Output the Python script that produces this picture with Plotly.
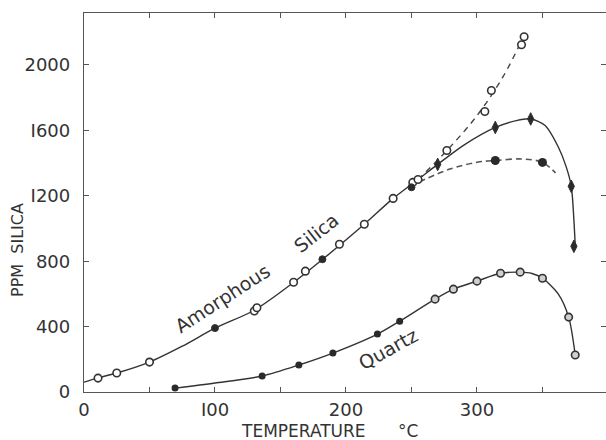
import plotly.graph_objects as go

# ---- data ----
# Amorphous silica: solid curve
amor_curve_t = [0, 10, 25, 50, 75, 100, 130, 160, 185, 214, 236, 255, 270, 290, 314, 330, 341, 352, 362, 368, 372, 374, 375]
amor_curve_p = [60, 85, 116, 183, 280, 390, 500, 670, 830, 1026, 1184, 1300, 1392, 1510, 1618, 1660, 1670, 1630, 1500, 1380, 1258, 1050, 897]

# dashed branch through open circles
open_branch_t = [255, 277, 300, 320, 336]
open_branch_p = [1300, 1477, 1690, 1930, 2180]

# dashed branch through large filled circles
fill_branch_t = [256, 280, 300, 314, 335, 350, 360]
fill_branch_p = [1285, 1365, 1405, 1416, 1425, 1404, 1340]

# Quartz curve
quartz_curve_t = [70, 100, 136, 164, 190, 224, 241, 268, 282, 300, 318, 333, 342, 350, 362, 370, 375]
quartz_curve_p = [24, 55, 98, 165, 238, 354, 433, 568, 629, 678, 726, 733, 725, 696, 600, 458, 226]

# markers
amor_open_t = [10.7, 25, 50, 130, 132, 160, 169, 195, 214, 236, 251, 255, 277, 306, 311, 334, 336]
amor_open_p = [85, 116, 183, 495, 515, 671, 739, 904, 1026, 1184, 1282, 1300, 1477, 1716, 1844, 2124, 2173]
amor_dot_t = [100, 182, 250]
amor_dot_p = [391, 812, 1252]
diamond_t = [270, 314, 341, 372, 374]
diamond_p = [1392, 1618, 1670, 1258, 891]
bigdot_t = [314, 350]
bigdot_p = [1416, 1404]
quartz_fill_t = [69.5, 136, 164, 190, 224, 241]
quartz_fill_p = [24, 98, 165, 238, 354, 433]
quartz_open_t = [268, 282, 300, 318, 333, 350, 370, 375]
quartz_open_p = [568, 629, 678, 726, 733, 696, 458, 226]

x_tickvals = [0, 50, 100, 150, 200, 250, 300, 350]
x_ticktext = ["0", "", "I00", "", "200", "", "300", ""]
y_tickvals = [0, 400, 800, 1200, 1600, 2000]
y_ticktext = ["0", "400", "800", "I200", "I600", "2000"]

INK = "#333333"
FONT = "DejaVu Sans"

fig = go.Figure()
line_style = dict(color=INK, width=1.4, shape="spline", smoothing=0.8)
fig.add_trace(go.Scatter(x=amor_curve_t, y=amor_curve_p, mode="lines", line=line_style))
fig.add_trace(go.Scatter(x=quartz_curve_t, y=quartz_curve_p, mode="lines", line=line_style))
fig.add_trace(go.Scatter(x=open_branch_t, y=open_branch_p, mode="lines",
                         line=dict(color="#444444", width=1.4, dash="6px,5px", shape="spline")))
fig.add_trace(go.Scatter(x=fill_branch_t, y=fill_branch_p, mode="lines",
                         line=dict(color="#555555", width=1.6, dash="6px,4px", shape="spline")))

fig.add_trace(go.Scatter(x=amor_open_t, y=amor_open_p, mode="markers",
                         marker=dict(symbol="circle", size=7.5, color="white", line=dict(color=INK, width=1.6))))
fig.add_trace(go.Scatter(x=amor_dot_t, y=amor_dot_p, mode="markers",
                         marker=dict(symbol="circle", size=7, color="#2a2a2a", line=dict(color=INK, width=1))))
fig.add_trace(go.Scatter(x=diamond_t, y=diamond_p, mode="markers",
                         marker=dict(symbol="diamond-tall", size=9, color="#2a2a2a", line=dict(color=INK, width=1))))
fig.add_trace(go.Scatter(x=bigdot_t, y=bigdot_p, mode="markers",
                         marker=dict(symbol="circle", size=9, color="#2a2a2a", line=dict(width=0))))
fig.add_trace(go.Scatter(x=quartz_fill_t, y=quartz_fill_p, mode="markers",
                         marker=dict(symbol="circle", size=7, color="#2a2a2a", line=dict(width=0))))
fig.add_trace(go.Scatter(x=quartz_open_t, y=quartz_open_p, mode="markers",
                         marker=dict(symbol="circle", size=7.5, color="#cfcfcf", line=dict(color=INK, width=1.6))))

axis_common = dict(showgrid=False, zeroline=False, showline=True, linecolor="#555555", linewidth=1.3,
                   ticks="inside", ticklen=5, tickcolor="#555555", mirror="ticks",
                   tickfont=dict(family=FONT, size=18, color=INK))
fig.update_xaxes(range=[0, 398.5], tickvals=x_tickvals, ticktext=x_ticktext, ticklabelstandoff=1, **axis_common)
fig.update_yaxes(range=[0, 2318], tickvals=y_tickvals, ticktext=y_ticktext, ticklabelstandoff=9, **axis_common)

ann_font = dict(family=FONT, size=19, color=INK)
fig.update_layout(
    width=606, height=440,
    margin=dict(l=84, r=0, t=13, b=48),
    paper_bgcolor="white", plot_bgcolor="white",
    showlegend=False,
    annotations=[
        dict(text="Amorphous", x=106, y=575, xref="x", yref="y", textangle=-33, showarrow=False, font=ann_font),
        dict(text="Silica", x=177, y=975, xref="x", yref="y", textangle=-38, showarrow=False, font=ann_font),
        dict(text="Quartz", x=232, y=265, xref="x", yref="y", textangle=-29, showarrow=False, font=ann_font),
        dict(text="PPM  SILICA", x=17, y=250, xref="paper", yref="paper", showarrow=False, textangle=-90,
             xanchor="center", yanchor="middle", font=dict(family=FONT, size=16, color=INK)),
        dict(text="TEMPERATURE      °C", x=329, y=431, xref="paper", yref="paper", showarrow=False,
             xanchor="center", yanchor="middle", font=dict(family=FONT, size=17, color=INK)),
    ],
)
# convert pixel positions of axis titles to paper coordinates
for a in fig.layout.annotations:
    if a.xref == "paper":
        a.x = (a.x - 84) / (606 - 84)
        a.y = (392 - a.y) / (392 - 13)

fig.write_html("out.html", config={"displayModeBar": False},
               post_script="document.body.style.margin='0';")
